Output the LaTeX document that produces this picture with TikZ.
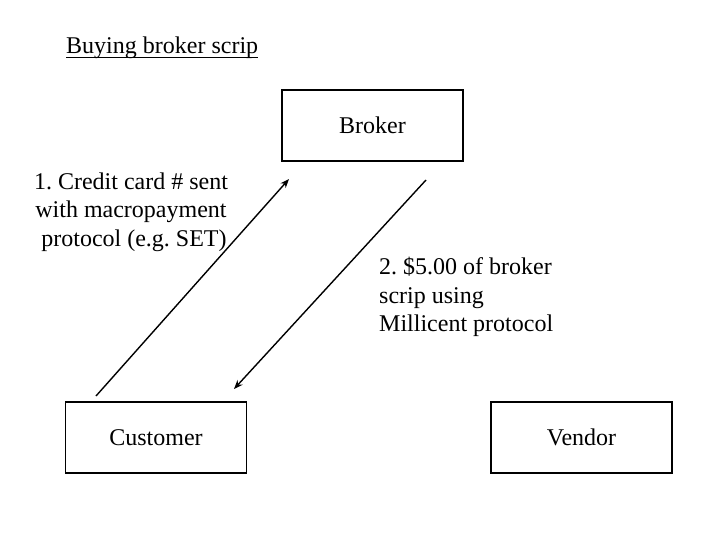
\documentclass[tikz,border=0pt]{standalone}
\usepackage{fontspec}
\setmainfont{Liberation Serif}
\usetikzlibrary{arrows.meta}
\frenchspacing
\begin{document}
\begin{tikzpicture}[x=1pt,y=-1pt,
  box/.style={draw,line width=1.1pt,minimum width=181pt,minimum height=71pt,inner sep=0pt,font=\fontsize{24}{28}\selectfont},
  lbl/.style={inner sep=0pt,font=\fontsize{24}{28.5}\selectfont},
  conn/.style={line width=1.4pt,-{Stealth[length=9pt,width=7pt]}}]
\useasboundingbox (0,0) rectangle (720,540);
\node[lbl,anchor=base west] (title) at (66,54) {Buying broker scrip};
\draw[line width=1.6pt] ([yshift=-3.5pt]title.base west) -- ([yshift=-3.5pt]title.base east);
\node[box] (broker) at (372.5,125.5) {Broker};
\node[box] (customer) at (156,437.5) {Customer};
\node[box] (vendor) at (581.5,437.5) {Vendor};
\coordinate (a1s) at (96,396);
\coordinate (a1e) at (289,179);
\coordinate (a2s) at (426,180);
\coordinate (a2e) at (234,389);
\draw[conn] (a1s) -- (a1e);
\draw[conn] (a2s) -- (a2e);
\node[lbl,align=center] (l1) at (131,212) {1. Credit card \# sent\\with macropayment\\\ protocol (e.g. SET)};
\node[lbl,align=left,anchor=west] (l2) at (379,297) {2. \$5.00 of broker\\scrip using\\Millicent protocol};
\end{tikzpicture}
\end{document}
